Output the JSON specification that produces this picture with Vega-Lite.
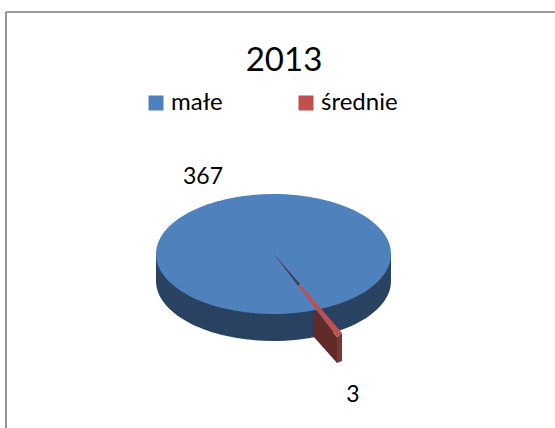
{
"$schema":"https://vega.github.io/schema/vega-lite/v6.json",
"width":549,"height":416,
"autosize":"none",
"padding":{"left":6,"top":12,"right":0,"bottom":0},
"background":"white",
"view":{"stroke":null,"fill":"white"},
"title":{"text":"2013","font":"Lato","fontSize":33,"fontWeight":"normal","color":"#000000","anchor":"middle","frame":"group","offset":-93,"baseline":"alphabetic","dx":3.5},
"data":{"values":[{"category":"małe","value":367},{"category":"średnie","value":3}]},
"layer":[
{"mark":{"type":"rule","color":"#8c8c8c","strokeWidth":1.5},
 "encoding":{"x":{"datum":0,"type":"quantitative","scale":{"domain":[0,1]},"axis":null}}},
{"mark":{"type":"rule","color":"#969696","strokeWidth":1.5},
 "encoding":{"y":{"datum":1,"type":"quantitative","scale":{"domain":[0,1]},"axis":null}}},
{"transform":[{"filter":"datum.category==='małe'"}],
 "mark":{"type":"point","filled":true,"opacity":1,"size":4,"color":"#2A4261","shape":"M-124.5,34 L-124.5,61 A117.5,60 0 0 0 110.5,61 L110.5,34 Z"}},
{"transform":[{"filter":"datum.category==='średnie'"}],
 "mark":{"type":"point","filled":true,"opacity":1,"size":4,"color":"#632A28","shape":"M32.5,89 L56.5,117 L56.5,143 L32.5,116 Z"}},
{"transform":[{"filter":"datum.category==='średnie'"}],
 "mark":{"type":"point","filled":true,"opacity":1,"size":4,"color":"#7A3634","shape":"M56.5,117 L61.5,113 L61.5,141 L56.5,143 Z"}},
{"transform":[{"filter":"datum.category==='małe'"}],
 "mark":{"type":"point","filled":true,"opacity":1,"size":4,"shape":"M-124.5,34 A117.5,60 0 1 1 110.5,34 A117.5,60 0 1 1 -124.5,34 Z"},
 "encoding":{
  "color":{"field":"category","type":"nominal","scale":{"domain":["małe","średnie"],"range":["#4F81BD","#C0504D"]},
   "legend":{"title":null,"orient":"none","legendX":138,"legendY":79,"direction":"horizontal","columns":2,"symbolType":"square","symbolSize":225,"symbolStrokeWidth":0,"labelFont":"Lato","labelFontSize":24,"labelColor":"#000000","labelOffset":3,"columnPadding":71,"labelLimit":200,"encode":{"labels":{"update":{"dy":{"value":3}}}}}}
 }},
{"transform":[{"filter":"datum.category==='średnie'"}],
 "mark":{"type":"point","filled":true,"opacity":1,"size":4,"shape":"M-6.5,34 L61.5,113 L56.5,117 Z"},
 "encoding":{
  "color":{"field":"category","type":"nominal","scale":{"domain":["małe","średnie"],"range":["#4F81BD","#C0504D"]},
   "legend":{"title":null,"orient":"none","legendX":138,"legendY":79,"direction":"horizontal","columns":2,"symbolType":"square","symbolSize":225,"symbolStrokeWidth":0,"labelFont":"Lato","labelFontSize":24,"labelColor":"#000000","labelOffset":3,"columnPadding":71,"labelLimit":200,"encode":{"labels":{"update":{"dy":{"value":3}}}}}}
 }},
{"transform":[{"filter":"datum.category==='średnie'"}],
 "mark":{"type":"point","filled":true,"opacity":1,"size":4,"color":"#2A4261","shape":"M-6.5,34 L19.3,64 L17.4,65.5 Z"}},
{"transform":[{"filter":"datum.category==='małe'"}],
 "mark":{"type":"text","font":"Lato","fontSize":23,"color":"#000000","dx":-77.5,"dy":-43,"baseline":"middle"},
 "encoding":{"text":{"field":"value","type":"quantitative"}}},
{"transform":[{"filter":"datum.category==='średnie'"}],
 "mark":{"type":"text","font":"Lato","fontSize":23,"color":"#000000","dx":72.5,"dy":175,"baseline":"middle"},
 "encoding":{"text":{"field":"value","type":"quantitative"}}}
]
}
